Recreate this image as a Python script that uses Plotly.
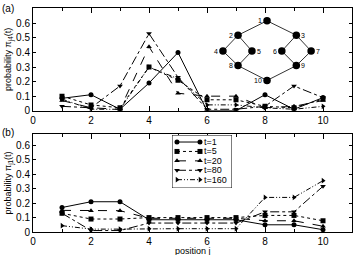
import plotly.graph_objects as go

positions = [1, 2, 3, 4, 5, 6, 7, 8, 9, 10]
series_names = ["t=1", "t=5", "t=20", "t=80", "t=160"]

# panel (a): pi_j4(t)
pa_t1 = [0.085, 0.11, 0.01, 0.19, 0.40, 0.00, 0.00, 0.11, 0.01, 0.09]
pa_t5 = [0.10, 0.04, 0.02, 0.30, 0.21, 0.075, 0.075, 0.03, 0.02, 0.08]
pa_t20 = [0.07, 0.02, 0.01, 0.44, 0.12, 0.10, 0.10, 0.02, 0.03, 0.07]
pa_t80 = [0.03, 0.02, 0.17, 0.53, 0.23, 0.01, 0.01, 0.03, 0.17, 0.09]
pa_t160 = [0.08, 0.01, 0.01, 0.30, 0.22, 0.04, 0.04, 0.02, 0.01, 0.03]

# panel (b): pi_j1(t)
pb_t1 = [0.17, 0.21, 0.21, 0.085, 0.085, 0.085, 0.085, 0.05, 0.05, 0.016]
pb_t5 = [0.13, 0.09, 0.09, 0.10, 0.10, 0.10, 0.10, 0.115, 0.115, 0.078]
pb_t20 = [0.15, 0.148, 0.148, 0.095, 0.095, 0.095, 0.095, 0.078, 0.078, 0.04]
pb_t80 = [0.13, 0.01, 0.01, 0.062, 0.062, 0.062, 0.062, 0.14, 0.14, 0.317]
pb_t160 = [0.044, 0.02, 0.02, 0.023, 0.023, 0.023, 0.023, 0.24, 0.24, 0.356]

# inset graph (node layout in panel-a data coordinates)
node_labels = ["1", "2", "3", "4", "5", "6", "7", "8", "9", "10"]
node_x = [8.07, 7.07, 9.08, 6.55, 7.55, 8.58, 9.59, 7.07, 9.08, 8.07]
node_y = [0.618, 0.519, 0.519, 0.41, 0.41, 0.41, 0.41, 0.31, 0.31, 0.208]
node_label_side = ["l", "l", "r", "l", "r", "l", "r", "l", "r", "l"]
edges = [(1, 2), (1, 3), (2, 4), (2, 5), (4, 8), (5, 8), (3, 6), (3, 7),
         (6, 9), (7, 9), (8, 10), (9, 10)]

symbols = ["circle", "square", "triangle-up", "triangle-down", "triangle-right"]
dashes = ["solid", "dot", "dash", "dashdot", "5px,2px,1px,2px,1px,2px"]

FONT = "Liberation Sans, Arial, sans-serif"
fig = go.Figure()

pa = [pa_t1, pa_t5, pa_t20, pa_t80, pa_t160]
pb = [pb_t1, pb_t5, pb_t20, pb_t80, pb_t160]

for i, name in enumerate(series_names):
    fig.add_trace(go.Scatter(x=positions, y=pa[i], mode="lines+markers", name=name,
                             showlegend=False, xaxis="x", yaxis="y",
                             line=dict(color="black", width=1, dash=dashes[i]),
                             marker=dict(symbol=symbols[i], size=5, color="black")))
for i, name in enumerate(series_names):
    fig.add_trace(go.Scatter(x=positions, y=pb[i], mode="lines+markers", name=name,
                             showlegend=False, xaxis="x2", yaxis="y2",
                             line=dict(color="black", width=1, dash=dashes[i]),
                             marker=dict(symbol=symbols[i], size=5, color="black")))

# inset graph edges
ex, ey = [], []
for a, b in edges:
    ex += [node_x[a - 1], node_x[b - 1], None]
    ey += [node_y[a - 1], node_y[b - 1], None]
fig.add_trace(go.Scatter(x=ex, y=ey, mode="lines", showlegend=False, xaxis="x", yaxis="y",
                         line=dict(color="black", width=0.8), hoverinfo="skip"))
fig.add_trace(go.Scatter(x=node_x, y=node_y, mode="markers", showlegend=False,
                         xaxis="x", yaxis="y", marker=dict(size=7.5, color="black")))
for lab, x, y, side in zip(node_labels, node_x, node_y, node_label_side):
    fig.add_annotation(x=x, y=y, xref="x", yref="y", text=lab, showarrow=False,
                       xanchor="right" if side == "l" else "left",
                       xshift=-3 if side == "l" else 3,
                       font=dict(family=FONT, size=7, color="black"))

# custom gnuplot-style legend on its own small axis (units: pixels inside the box)
LEG_W, LEG_H = 60, 53
for i, name in enumerate(series_names):
    yy = 7 + 9.4 * i
    fig.add_trace(go.Scatter(x=[5, 28], y=[yy, yy], mode="lines+markers", showlegend=False,
                             xaxis="x3", yaxis="y3", hoverinfo="skip",
                             line=dict(color="black", width=1, dash=dashes[i]),
                             marker=dict(symbol=symbols[i], size=5, color="black")))
    fig.add_annotation(x=30, y=yy, xref="x3", yref="y3", text=name, showarrow=False,
                       xanchor="left", yanchor="middle",
                       font=dict(family=FONT, size=9, color="black"))
fig.add_shape(type="rect", xref="x3", yref="y3", x0=0, x1=LEG_W, y0=0, y1=LEG_H,
              line=dict(color="black", width=1), fillcolor="rgba(0,0,0,0)")

axis_common = dict(showline=True, linecolor="black", linewidth=1, mirror="allticks",
                   ticks="inside", tickcolor="black", ticklen=5, tickwidth=1,
                   showgrid=False, zeroline=False,
                   tickfont=dict(family=FONT, size=10, color="black"))
xcommon = dict(axis_common, range=[0, 11], tickmode="array",
               tickvals=[0, 2, 4, 6, 8, 10],
               minor=dict(tickmode="array", tickvals=[1, 3, 5, 7, 9, 11],
                          ticks="inside", ticklen=3, tickcolor="black"))
ycommon = dict(axis_common, tickmode="array",
               tickvals=[0, 0.1, 0.2, 0.3, 0.4, 0.5, 0.6],
               ticktext=["0", "0.1", "0.2", "0.3", "0.4", "0.5", "0.6"], ticklen=3)

fig.update_layout(
    width=353, height=255,
    margin=dict(l=33, r=1, t=8, b=23),
    paper_bgcolor="white", plot_bgcolor="white",
    font=dict(family=FONT, size=10, color="black"),
    showlegend=False,
    hovermode=False,
    xaxis=dict(xcommon, domain=[0, 1], anchor="y"),
    yaxis=dict(ycommon, domain=[0.5415, 1], range=[0, 0.706], anchor="x",
               title=dict(text="probability π<sub>j4</sub>(t)", standoff=2,
                          font=dict(family=FONT, size=9))),
    xaxis2=dict(xcommon, domain=[0, 1], anchor="y2"),
    yaxis2=dict(ycommon, domain=[0, 0.4375], range=[0, 0.68], anchor="x2",
                title=dict(text="probability π<sub>j1</sub>(t)", standoff=2,
                           font=dict(family=FONT, size=9))),
    xaxis3=dict(domain=[0.4357, 0.6238], range=[0, LEG_W], visible=False,
                anchor="y3", fixedrange=True),
    yaxis3=dict(domain=[0.196, 0.433], range=[LEG_H, 0], visible=False,
                anchor="x3", fixedrange=True),
)
fig.add_annotation(x=0.5, y=0, xref="paper", yref="paper", text="position j",
                   showarrow=False, xanchor="center", yanchor="top", yshift=-12,
                   font=dict(family=FONT, size=9), bgcolor="rgba(0,0,0,0)")
fig.add_annotation(x=0, y=1.0, xref="paper", yref="paper", text="(a)", showarrow=False,
                   xanchor="left", yanchor="bottom", xshift=-33, yshift=-8,
                   font=dict(family=FONT, size=10))
fig.add_annotation(x=0, y=0.4375, xref="paper", yref="paper", text="(b)", showarrow=False,
                   xanchor="left", yanchor="middle", xshift=-33, yshift=2,
                   font=dict(family=FONT, size=10))

fig.write_html("out.html", config={"displayModeBar": False},
               post_script="document.body.style.margin='0';"
                           "document.body.style.overflow='hidden';")
